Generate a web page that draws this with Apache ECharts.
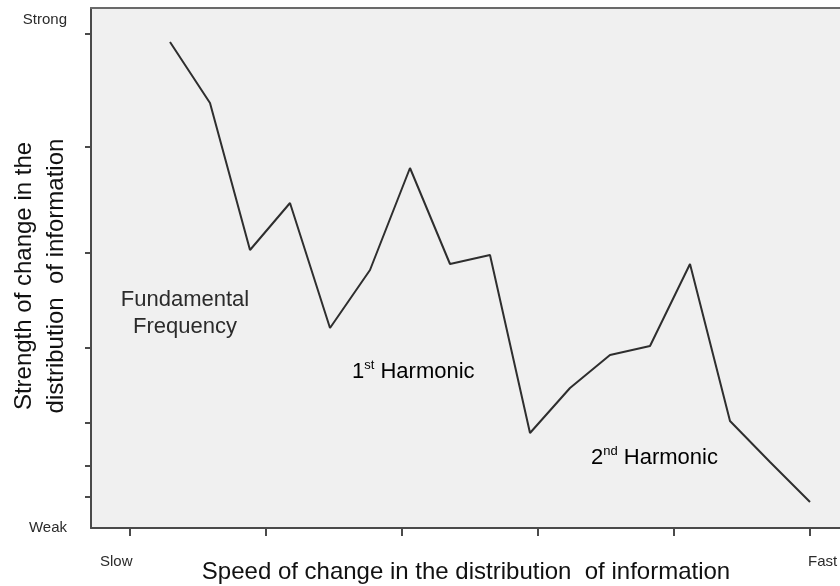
<!DOCTYPE html>
<html>
<head>
<meta charset="utf-8">
<script src="https://cdn.jsdelivr.net/npm/echarts@6/dist/echarts.min.js"></script>
<style>
  html, body { margin: 0; padding: 0; background: #fff; }
  #chart { width: 840px; height: 586px; }
</style>
</head>
<body>
<div id="chart"></div>
<script>
  // speed steps along the x axis (one per vertex of the curve)
  const speedSteps = [1, 2, 3, 4, 5, 6, 7, 8, 9, 10, 11, 12, 13, 14, 15, 16, 17];
  // strength (0 = weak axis, 520 = top of the frame)
  const strength = [486, 425, 278, 325, 200, 258, 360, 264, 273, 95, 140, 173, 182, 264, 107, 66, 26];
  // tick positions on both axes
  const xTicks = [0, 3.4, 6.8, 10.2, 13.6, 17];
  const yTicks = [31, 62, 105, 180, 275, 381, 494];
  const yLabelValues = [0, 508];
  const yLabelText = ['Weak', 'Strong'];

  const font = 'Liberation Sans, Arial, sans-serif';
  const ink = '#2b2b2b';
  const axisColor = '#4a4a4a';

  const myChart = echarts.init(document.getElementById('chart'));
  const option = {
    animation: false,
    grid: {
      left: 91,
      top: 8,
      right: 0,
      bottom: 58,
      outerBoundsMode: 'none',
      show: true,
      backgroundColor: '#f0f0f0',
      borderWidth: 0
    },
    xAxis: [{
      type: 'value',
      min: -0.975,
      max: 17.75,
      axisLine: { show: true, onZero: false, lineStyle: { color: axisColor, width: 2 } },
      axisTick: {
        show: true,
        customValues: xTicks,
        length: 8,
        lineStyle: { color: axisColor, width: 2 }
      },
      axisLabel: { show: false },
      splitLine: { show: false }
    }, {
      // top edge of the frame
      type: 'value',
      position: 'top',
      min: -0.975,
      max: 17.75,
      axisLine: { show: true, onZero: false, lineStyle: { color: '#6a6a6a', width: 2 } },
      axisTick: { show: false },
      axisLabel: { show: false },
      splitLine: { show: false }
    }],
    yAxis: {
      type: 'value',
      min: 0,
      max: 520,
      axisLine: { show: true, onZero: false, lineStyle: { color: axisColor, width: 2 } },
      axisTick: {
        show: true,
        customValues: yTicks,
        length: 6,
        lineStyle: { color: axisColor, width: 2 }
      },
      axisLabel: {
        show: true,
        customValues: yLabelValues,
        formatter: function (v) { return yLabelText[yLabelValues.indexOf(v)]; },
        margin: 24,
        fontFamily: font,
        fontSize: 15,
        color: ink
      },
      splitLine: { show: false }
    },
    series: [{
      type: 'line',
      data: speedSteps.map((s, i) => [s, strength[i]]),
      showSymbol: false,
      lineStyle: { color: '#2e2e2e', width: 2 }
    }],
    graphic: [
      { type: 'text', x: 100, y: 562, style: { text: 'Slow', font: '15px ' + font, fill: ink, align: 'left', verticalAlign: 'middle' } },
      { type: 'text', x: 808, y: 562, style: { text: 'Fast', font: '15px ' + font, fill: ink, align: 'left', verticalAlign: 'middle' } },
      { type: 'text', x: 466, y: 572, style: { text: 'Speed of change in the distribution  of information', font: '24px ' + font, fill: '#111', align: 'center', verticalAlign: 'middle' } },
      {
        type: 'text', x: 40, y: 276, rotation: Math.PI / 2,
        style: {
          text: 'Strength of change in the\ndistribution  of information',
          font: '24px ' + font, lineHeight: 32, fill: '#111', align: 'center', verticalAlign: 'middle'
        }
      },
      {
        type: 'text', x: 185, y: 313,
        style: { text: 'Fundamental\nFrequency', font: '22px ' + font, lineHeight: 27, fill: ink, align: 'center', verticalAlign: 'middle' }
      },
      {
        type: 'text', x: 352, y: 372,
        style: {
          text: '{b|1}{s|st}{b| Harmonic}', align: 'left', verticalAlign: 'middle',
          rich: {
            b: { fontFamily: font, fontSize: 22, color: ink, lineHeight: 26 },
            s: { fontFamily: font, fontSize: 13, color: ink, verticalAlign: 'top', lineHeight: 26 }
          }
        }
      },
      {
        type: 'text', x: 591, y: 458,
        style: {
          text: '{b|2}{s|nd}{b| Harmonic}', align: 'left', verticalAlign: 'middle',
          rich: {
            b: { fontFamily: font, fontSize: 22, color: ink, lineHeight: 26 },
            s: { fontFamily: font, fontSize: 13, color: ink, verticalAlign: 'top', lineHeight: 26 }
          }
        }
      }
    ]
  };
  myChart.setOption(option);
</script>
</body>
</html>
